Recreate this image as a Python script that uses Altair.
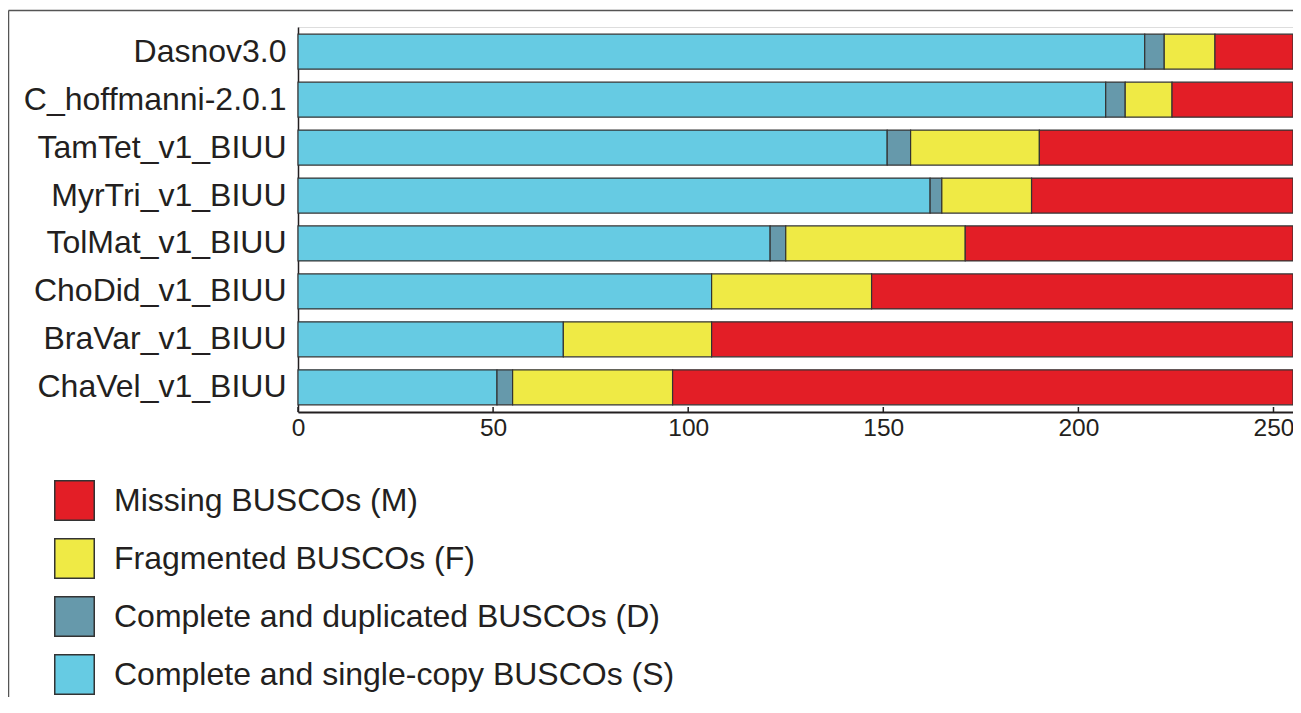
import altair as alt
import pandas as pd

species = ["Dasnov3.0", "C_hoffmanni-2.0.1", "TamTet_v1_BIUU", "MyrTri_v1_BIUU",
           "TolMat_v1_BIUU", "ChoDid_v1_BIUU", "BraVar_v1_BIUU", "ChaVel_v1_BIUU"]
single = [217, 207, 151, 162, 121, 106, 68, 51]
duplicated = [5, 5, 6, 3, 4, 0, 0, 4]
fragmented = [13, 12, 33, 23, 46, 41, 38, 41]
missing = [20, 31, 65, 67, 84, 108, 149, 159]

cat_labels = ["Missing BUSCOs (M)", "Fragmented BUSCOs (F)",
              "Complete and duplicated BUSCOs (D)", "Complete and single-copy BUSCOs (S)"]
cat_colors = ["#E31E26", "#EFEA45", "#6699AB", "#66CBE3"]
tick_values = [0, 50, 100, 150, 200, 250]

rows = []
for i, sp in enumerate(species):
    for order, (lab, vals) in enumerate([(cat_labels[3], single), (cat_labels[2], duplicated),
                                          (cat_labels[1], fragmented), (cat_labels[0], missing)]):
        if vals[i] > 0:
            rows.append({"species": sp, "category": lab, "count": vals[i], "ord": order})
df = pd.DataFrame(rows)

W, H = 995, 385
FONT = "Liberation Sans, Arial, Helvetica, sans-serif"

xscale = alt.Scale(domain=[0, 255], nice=False, zero=True)

bars = alt.Chart(df).mark_bar(stroke="#333333", strokeWidth=1.2, opacity=1).encode(
    y=alt.Y("species:N", sort=species, title=None,
            scale=alt.Scale(paddingInner=0.27, paddingOuter=0.15),
            axis=alt.Axis(ticks=False, domainColor="#231F20", domainWidth=1.5,
                          labelFontSize=32, labelPadding=12, labelColor="#231F20",
                          labelLimit=400, labelFont=FONT)),
    x=alt.X("count:Q", stack="zero", scale=xscale, title=None,
            axis=alt.Axis(values=tick_values, ticks=False, grid=False, domainColor="#231F20",
                          domainWidth=2, labelFontSize=24.5, labelPadding=4,
                          labelColor="#231F20", labelFont=FONT, labelFlush=False)),
    color=alt.Color("category:N",
                    scale=alt.Scale(domain=cat_labels, range=cat_colors),
                    legend=alt.Legend(title=None, orient="none", legendX=-244, legendY=453,
                                      symbolType="square", symbolSize=1560,
                                      symbolStrokeColor="#333333", symbolStrokeWidth=1.5,
                                      symbolOpacity=1, labelFontSize=32, labelOffset=19,
                                      rowPadding=11, labelColor="#231F20", labelFont=FONT,
                                      labelLimit=800, padding=0)),
    order=alt.Order("ord:Q"),
)

ticks_df = pd.DataFrame({"t": tick_values})
ticks = alt.Chart(ticks_df).mark_rule(color="#231F20", strokeWidth=1.5).encode(
    x=alt.X("t:Q", scale=xscale),
    y=alt.value(H - 5),
    y2=alt.value(H),
)

frame_top = alt.Chart(alt.Data(values=[{}])).mark_rule(color="#555555", strokeWidth=1.5).encode(
    x=alt.value(-289.5), x2=alt.value(W), y=alt.value(-16.5)
)
frame_left = alt.Chart(alt.Data(values=[{}])).mark_rule(color="#555555", strokeWidth=1.5).encode(
    x=alt.value(-289.5), y=alt.value(-16.5), y2=alt.value(H + 300)
)

chart = alt.layer(bars, ticks, frame_top, frame_left).properties(
    width=W, height=H,
    autosize=alt.AutoSizeParams(type="none"),
    padding={"left": 290, "top": 19, "right": 0, "bottom": 285},
).configure_view(stroke=None).configure(font=FONT)

chart.save("out.html", embed_options={"renderer": "svg", "actions": False})
